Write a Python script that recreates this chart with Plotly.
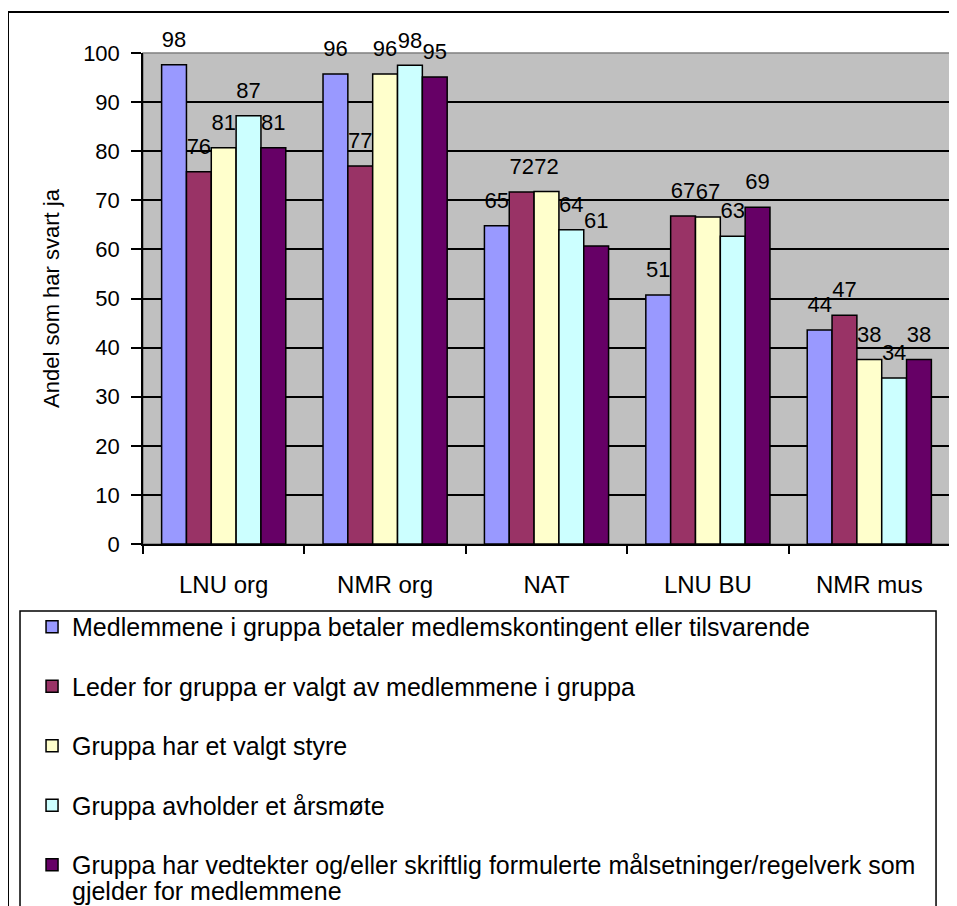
import plotly.graph_objects as go

# categories and series (percent answering yes)
categories = ["LNU org", "NMR org", "NAT", "LNU BU", "NMR mus"]

series_names = [
    "Medlemmene i gruppa betaler medlemskontingent eller tilsvarende",
    "Leder for gruppa er valgt av medlemmene i gruppa",
    "Gruppa har et valgt styre",
    "Gruppa avholder et årsmøte",
    "Gruppa har vedtekter og/eller skriftlig formulerte målsetninger/regelverk som",
]
# wrapped tail of the last legend entry
last_name_tail = "gjelder for medlemmene"

betaler = [97.6, 95.7, 64.8, 50.7, 43.6]
leder = [75.8, 77.0, 71.7, 66.8, 46.6]
styre = [80.7, 95.7, 71.8, 66.6, 37.6]
aarsmote = [87.2, 97.5, 64.0, 62.7, 33.8]
vedtekter = [80.7, 95.1, 60.7, 68.6, 37.6]

series_values = [betaler, leder, styre, aarsmote, vedtekter]
colors = ["#9999FF", "#993366", "#FFFFCC", "#CCFFFF", "#660066"]

FONT = "Liberation Sans, Arial, sans-serif"

fig = go.Figure()

for i, (name, vals) in enumerate(zip(series_names, series_values)):
    fig.add_trace(
        go.Bar(
            x=categories,
            y=vals,
            name=name,
            legendgroup=f"g{i}",
            offsetgroup=f"s{i}",
            marker=dict(color=colors[i], line=dict(color="black", width=1.5)),
        )
    )

# value labels, placed with scattermode="group" so they line up with the bars
for i, vals in enumerate(series_values):
    fig.add_trace(
        go.Scatter(
            x=categories,
            y=vals,
            mode="markers+text",
            offsetgroup=f"s{i}",
            marker=dict(size=18, color="rgba(0,0,0,0)"),
            text=[f"{round(v)}" for v in vals],
            textposition="top center",
            textfont=dict(family=FONT, size=22, color="black"),
            cliponaxis=False,
            showlegend=False,
            hoverinfo="skip",
        )
    )

# plot area border (grey) and outer frame / legend box
fig.add_shape(type="rect", xref="paper", yref="paper", x0=0, x1=1, y0=0, y1=1,
              line=dict(color="#808080", width=1.5), layer="below")
fig.add_shape(type="rect", xref="paper", yref="paper",
              x0=-0.1673, x1=1.02, y0=-0.80, y1=1.0835,
              line=dict(color="black", width=2))
fig.add_shape(type="rect", xref="paper", yref="paper",
              x0=-0.1524, x1=0.9827, y0=-0.80, y1=-0.1365,
              line=dict(color="black", width=1.5))

# second line of the last legend entry (tighter line spacing than plotly's)
fig.add_annotation(
    xref="paper", yref="paper", x=-0.0903, y=-0.7075,
    xanchor="left", yanchor="middle", showarrow=False,
    text=last_name_tail, font=dict(family=FONT, size=25, color="black"),
)

# page body has an 8px margin, so the figure is 8px smaller than the window
fig.update_layout(
    width=949,
    height=898,
    margin=dict(l=135, r=7, t=45, b=362, autoexpand=False),
    paper_bgcolor="white",
    plot_bgcolor="#C0C0C0",
    barmode="group",
    bargap=1.5 / 6.5,
    bargroupgap=0,
    scattermode="group",
    scattergap=1.5 / 6.5,
    font=dict(family=FONT, size=22, color="black"),
    showlegend=True,
    legend=dict(
        x=-0.1375, y=-0.122, xanchor="left", yanchor="top",
        traceorder="grouped",
        tracegroupgap=24,
        bgcolor="rgba(0,0,0,0)",
        borderwidth=0,
        font=dict(family=FONT, size=25, color="black"),
    ),
    xaxis=dict(
        showline=True, linecolor="black", linewidth=1.5,
        ticks="outside", tickson="boundaries", ticklen=8,
        tickcolor="black", tickwidth=1.5,
        ticklabelstandoff=18,
        showgrid=False,
        tickfont=dict(family=FONT, size=24),
    ),
    yaxis=dict(
        range=[0, 100], dtick=10,
        showline=True, linecolor="black", linewidth=1.5,
        ticks="outside", ticklen=10, tickcolor="black", tickwidth=1.5,
        ticklabelstandoff=7,
        showgrid=True, gridcolor="black", gridwidth=1.5,
        zeroline=False,
        tickfont=dict(family=FONT, size=22),
        title=dict(text="Andel som har svart ja", standoff=17,
                   font=dict(family=FONT, size=22)),
    ),
)

fig.write_html("out.html")
